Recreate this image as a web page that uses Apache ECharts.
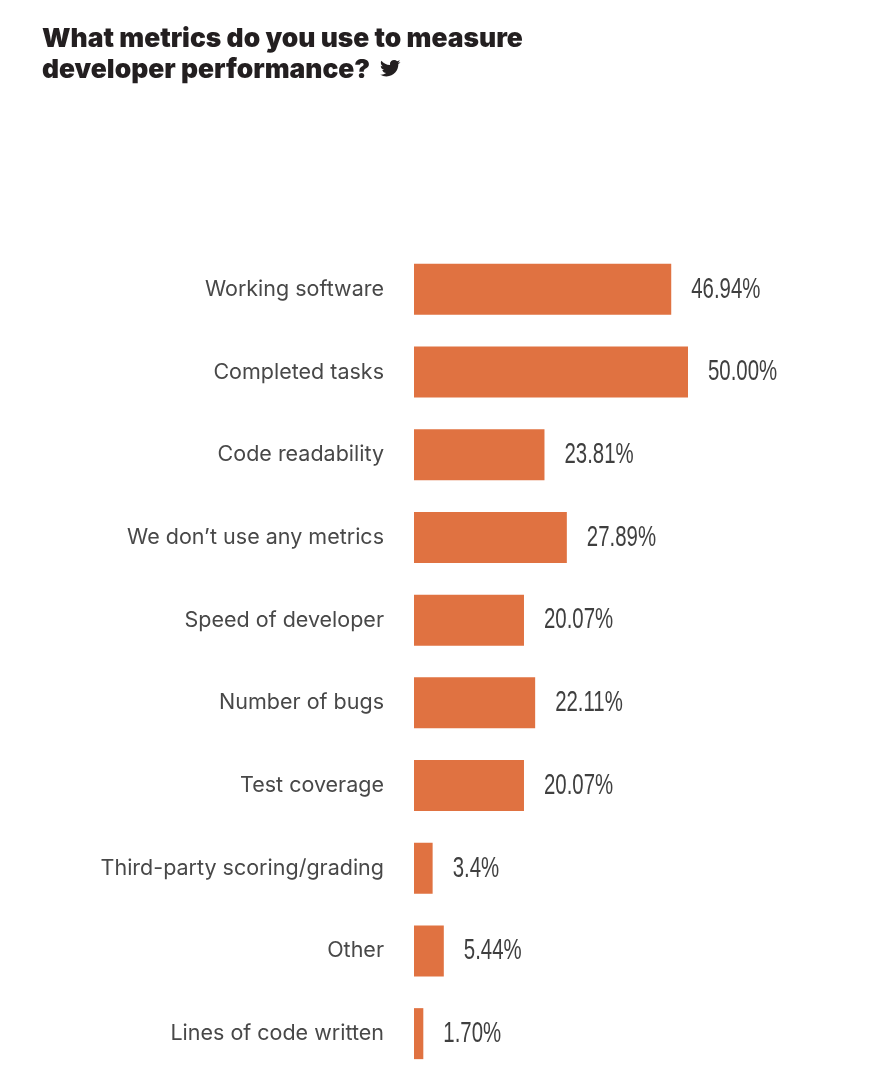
<!DOCTYPE html>
<html><head><meta charset="utf-8">
<style>html,body{margin:0;padding:0;background:#fff}#c{width:880px;height:1075px}</style>
<script src="https://cdn.jsdelivr.net/npm/echarts@6/dist/echarts.min.js"></script>
</head><body><div id="c"></div>
<script>
const categories = ["Working software","Completed tasks","Code readability","We don\u2019t use any metrics","Speed of developer","Number of bugs","Test coverage","Third-party scoring/grading","Other","Lines of code written"];
const values = [46.94,50.00,23.81,27.89,20.07,22.11,20.07,3.4,5.44,1.70];
const valueLabels = ["46.94%","50.00%","23.81%","27.89%","20.07%","22.11%","20.07%","3.4%","5.44%","1.70%"];
const titleLines = ["What metrics do you use to measure","developer performance?"];
const chart = echarts.init(document.getElementById('c'),null,{renderer:'canvas'});
const bird = "M23.95 4.57a10 10 0 0 1-2.82.77 4.96 4.96 0 0 0 2.16-2.72c-.95.56-2 .96-3.12 1.19a4.92 4.92 0 0 0-8.38 4.48C7.69 8.1 4.07 6.13 1.64 3.16a4.9 4.9 0 0 0-.67 2.48c0 1.71.87 3.21 2.19 4.1a4.9 4.9 0 0 1-2.23-.62v.06a4.92 4.92 0 0 0 3.95 4.83 4.99 4.99 0 0 1-2.21.08 4.94 4.94 0 0 0 4.6 3.42A9.87 9.87 0 0 1 0 19.54a14 14 0 0 0 7.56 2.21c9.05 0 14-7.5 14-14 0-.21 0-.42-.02-.63a9.94 9.94 0 0 0 2.46-2.55z";
echarts.graphic.registerShape('birdIcon', echarts.graphic.extendPath(bird, {}));
chart.setOption({
  animation:false,
  backgroundColor:'#fff',
  title:{text:titleLines.join("\n"),left:37,top:19,textStyle:{fontFamily:'Inter',fontWeight:900,fontSize:26.4,lineHeight:30.5,color:'#231f20'}},
  graphic:[{type:'birdIcon',x:380,y:58,scaleX:0.85,scaleY:0.85,style:{fill:'#231f20'}}],
  grid:{left:414,top:248,width:328.8,height:830},
  xAxis:{type:'value',min:0,max:60,show:false},
  yAxis:{type:'category',inverse:true,data:categories,axisLine:{show:false},axisTick:{show:false},
    axisLabel:{margin:30,color:'#484848',fontFamily:'Inter',fontWeight:400,fontSize:21.5,align:'right'}},
  series:[
    {type:'bar',data:values,barWidth:51,itemStyle:{color:'#e07241'}},
    {type:'custom',silent:true,data:values.map((v,i)=>[v,i]),encode:{x:0,y:1},
     renderItem:(params,api)=>{
       const p=api.coord([api.value(0),api.value(1)]);
       return {type:'text',x:p[0]+20,y:p[1],scaleX:0.68,
         style:{text:valueLabels[params.dataIndex],fill:'#3f3f3f',font:'30px "Liberation Sans"',align:'left',verticalAlign:'middle'}};
     }}
  ]
});
</script></body></html>
